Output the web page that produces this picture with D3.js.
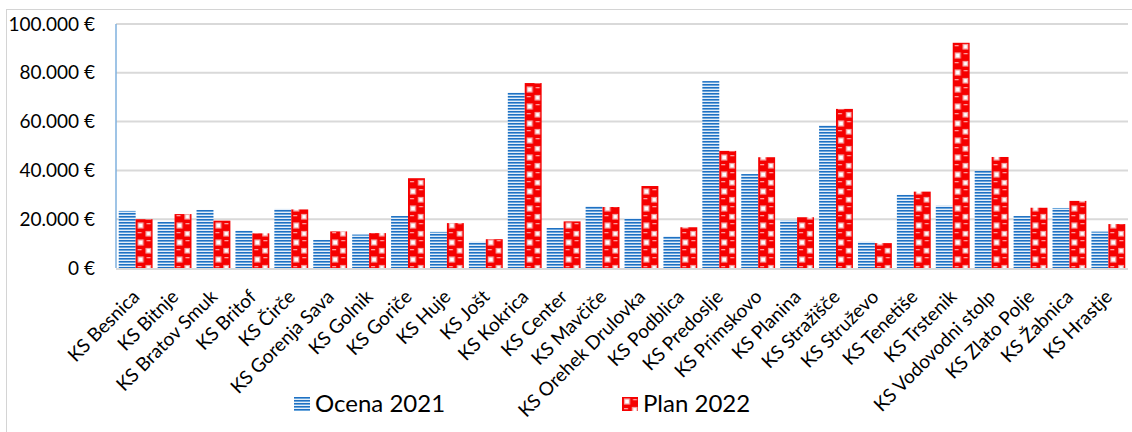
<!DOCTYPE html>
<html>
<head>
<meta charset="utf-8">
<script src="https://cdn.jsdelivr.net/npm/d3@7"></script>
<style>
  body { margin: 0; background: #fff; }
  text { font-family: Lato, "Open Sans", sans-serif; fill: #000; }
</style>
</head>
<body>
<div class="main"></div>
<script>
var categories = ['KS Besnica', 'KS Bitnje', 'KS Bratov Smuk', 'KS Britof', 'KS Čirče', 'KS Gorenja Sava',
    'KS Golnik', 'KS Goriče', 'KS Huje', 'KS Jošt', 'KS Kokrica', 'KS Center', 'KS Mavčiče',
    'KS Orehek Drulovka', 'KS Podblica', 'KS Predoslje', 'KS Primskovo', 'KS Planina', 'KS Stražišče',
    'KS Struževo', 'KS Tenetiše', 'KS Trstenik', 'KS Vodovodni stolp', 'KS Zlato Polje', 'KS Žabnica', 'KS Hrastje'];
var ocena2021 = [23400, 18900, 23800, 15300, 24200, 11500, 13700, 21300, 14800, 10700, 71900, 16400, 25400,
    20500, 13100, 76600, 38500, 19400, 58600, 10700, 30000, 25500, 39800, 21300, 24600, 14900];
var plan2022 = [20000, 22100, 19400, 14200, 24000, 15000, 14300, 36800, 18400, 11800, 75800, 19100, 25000,
    33600, 16700, 48000, 45400, 20800, 65200, 10200, 31300, 92300, 45500, 24700, 27500, 18000];
var seriesNames = ['Ocena 2021', 'Plan 2022'];
var yTicks = [0, 20000, 40000, 60000, 80000, 100000];

var options = {
    'width': 1132,
    'height': 432,
    'left': 116,
    'right': 1128,
    'top': 24,
    'bottom': 268
};

var locale = d3.formatLocale({
    decimal: ',',
    thousands: '.',
    grouping: [3],
    currency: ['', ' €']
});
var euro = locale.format('$,');

var svg = d3.select('.main')
    .append('svg')
    .attr('width', options.width)
    .attr('height', options.height);

var defs = svg.append('defs');

// blue horizontal stripes
var pBlue = defs.append('pattern')
    .attr('id', 'pat-blue')
    .attr('patternUnits', 'userSpaceOnUse')
    .attr('width', 6)
    .attr('height', 3);
pBlue.append('rect').attr('width', 6).attr('height', 3).style('fill', '#e4eef9');
pBlue.append('rect').attr('y', 0).attr('width', 6).attr('height', 1).style('fill', '#1f70c2');
pBlue.append('rect').attr('y', 1).attr('width', 6).attr('height', 1).style('fill', '#6aa6dc');

// red checker pattern
var pRed = defs.append('pattern')
    .attr('id', 'pat-red')
    .attr('patternUnits', 'userSpaceOnUse')
    .attr('width', 16.5)
    .attr('height', 17);
pRed.append('rect').attr('width', 16.5).attr('height', 17).style('fill', '#f50000');
pRed.append('rect').attr('x', 2.5).attr('y', 2).attr('width', 5).attr('height', 5)
    .style('fill', '#fff').style('stroke', '#f4a0a0').style('stroke-width', 1.2);
pRed.append('rect').attr('x', 10.5).attr('y', 10.5).attr('width', 4.5).attr('height', 4.5)
    .style('fill', '#fff').style('stroke', '#f4a0a0').style('stroke-width', 1.2);
pRed.append('rect').attr('x', 11).attr('y', 2).attr('width', 4).attr('height', 1.3).style('fill', '#ff9d9d');
pRed.append('rect').attr('x', 2).attr('y', 11).attr('width', 4).attr('height', 1.3).style('fill', '#ff9d9d');

// outer chart border
svg.append('rect')
    .attr('x', 6.5)
    .attr('y', 9.5)
    .attr('width', 1140)
    .attr('height', 440)
    .style('fill', 'none')
    .style('stroke', '#d4d4d4');

var y = d3.scaleLinear()
    .domain([0, 100000])
    .range([options.bottom, options.top]);

var x0 = d3.scaleBand()
    .domain(categories)
    .range([options.left, options.right])
    .paddingInner(0.13)
    .paddingOuter(0.07);

var x1 = d3.scaleBand()
    .domain(seriesNames)
    .range([0, x0.bandwidth()]);

// gridlines
svg.append('g')
    .selectAll('.grid')
    .data(yTicks.slice(1))
    .enter()
    .append('line')
    .attr('class', 'grid')
    .attr('x1', options.left)
    .attr('x2', options.right)
    .attr('y1', function (d) { return y(d); })
    .attr('y2', function (d) { return y(d); })
    .style('stroke', '#d9d9d9')
    .style('stroke-width', '2px');

// y axis labels
var yAxis = d3.axisLeft(y)
    .tickValues(yTicks)
    .tickFormat(euro)
    .tickSize(0)
    .tickPadding(0);

var gy = svg.append('g')
    .attr('transform', 'translate(95,0)')
    .call(yAxis);
gy.select('.domain').remove();
gy.selectAll('text')
    .style('font-family', 'Lato, sans-serif')
    .style('font-size', '19px')
    .style('fill', '#000');

// bars
var rows = categories.map(function (c, i) {
    return { name: c, values: [ocena2021[i], plan2022[i]] };
});

var groups = svg.append('g')
    .selectAll('.group')
    .data(rows)
    .enter()
    .append('g')
    .attr('class', 'group')
    .attr('transform', function (d) { return 'translate(' + x0(d.name) + ',0)'; });

groups.selectAll('.bar')
    .data(function (d) {
        return d.values.map(function (v, k) { return { key: seriesNames[k], value: v }; });
    })
    .enter()
    .append('g')
    .attr('transform', function (d) { return 'translate(' + x1(d.key) + ',0)'; })
    .append('rect')
    .attr('class', 'bar')
    .attr('x', 0)
    .attr('y', function (d) { return y(d.value); })
    .attr('width', x1.bandwidth())
    .attr('height', function (d) { return y(0) - y(d.value); })
    .style('fill', function (d) { return d.key === 'Ocena 2021' ? 'url(#pat-blue)' : 'url(#pat-red)'; });

// axis lines
svg.append('line')
    .attr('x1', options.left)
    .attr('x2', options.right)
    .attr('y1', options.bottom + 1)
    .attr('y2', options.bottom + 1)
    .style('stroke', '#d9d9d9')
    .style('stroke-width', '2px');

svg.append('line')
    .attr('x1', options.left)
    .attr('x2', options.left)
    .attr('y1', options.top)
    .attr('y2', options.bottom)
    .style('stroke', '#7fb0de')
    .style('stroke-width', '1.5px');

// category labels
svg.append('g')
    .selectAll('.cat')
    .data(categories)
    .enter()
    .append('text')
    .attr('class', 'cat')
    .text(function (d) { return d; })
    .attr('transform', function (d) {
        return 'translate(' + [x0(d) + x0.bandwidth() / 2 + 5, 298] + ') rotate(-45)';
    })
    .attr('text-anchor', 'end')
    .style('font-size', '19px');

// legend
var legend = svg.append('g')
    .selectAll('.legend')
    .data(seriesNames)
    .enter()
    .append('g')
    .attr('class', 'legend')
    .attr('transform', function (d, i) { return 'translate(' + [i === 0 ? 294 : 622, 397] + ')'; });

legend.append('rect')
    .attr('width', 16)
    .attr('height', 14)
    .style('fill', function (d, i) { return i === 0 ? 'url(#pat-blue)' : 'url(#pat-red)'; });

legend.append('text')
    .text(function (d) { return d; })
    .attr('x', 21)
    .attr('y', 15)
    .style('font-size', '24px');
</script>
</body>
</html>
